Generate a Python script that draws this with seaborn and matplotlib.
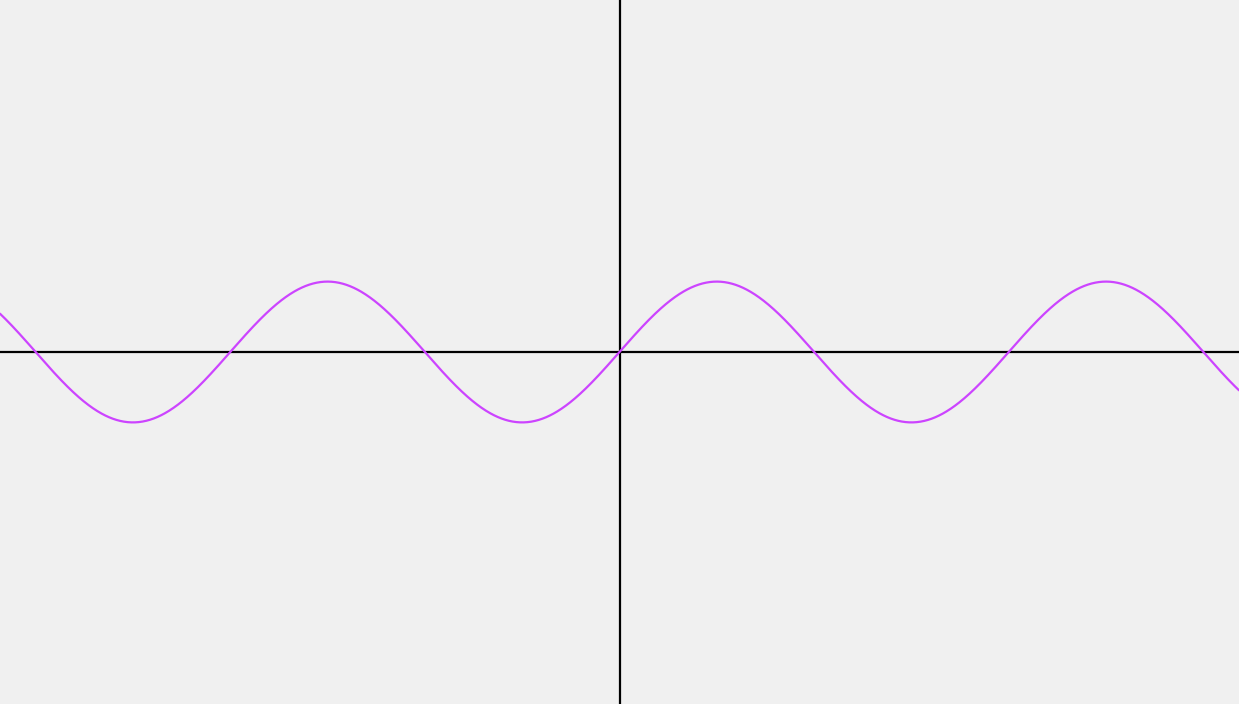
import numpy as np
import pandas as pd
import matplotlib
matplotlib.use("Agg")
import matplotlib.pyplot as plt
import seaborn as sns

# ── Data ──────────────────────────────────────────────────────────────────────
X_LIMITS = [-10, 10]
Y_LIMITS = [-5, 5]
N_POINTS = 2000

# the chart is a plot of y = sin(x) over the visible range
x_values = np.linspace(X_LIMITS[0], X_LIMITS[1], N_POINTS)
y_values = np.sin(x_values)

LINE_COLOR = "#cc44ff"
BG_COLOR = "#f0f0f0"

# ── Plot ──────────────────────────────────────────────────────────────────────
sns.set_style("white")
df = pd.DataFrame({"x": x_values, "y": y_values})

fig = plt.figure(figsize=(12.39, 7.04), dpi=100, facecolor=BG_COLOR)
ax = fig.add_axes([0, 0, 1, 1])
ax.set_facecolor(BG_COLOR)

ax.axhline(0, color="black", linewidth=1.6, zorder=1)
ax.axvline(0, color="black", linewidth=1.6, zorder=1)
sns.lineplot(data=df, x="x", y="y", color=LINE_COLOR, linewidth=1.6,
             sort=False, ax=ax, zorder=2)

ax.set_xlim(X_LIMITS)
ax.set_ylim(Y_LIMITS)
ax.set_axis_off()

fig.savefig("out.png", dpi=100, facecolor=BG_COLOR)
plt.close()
